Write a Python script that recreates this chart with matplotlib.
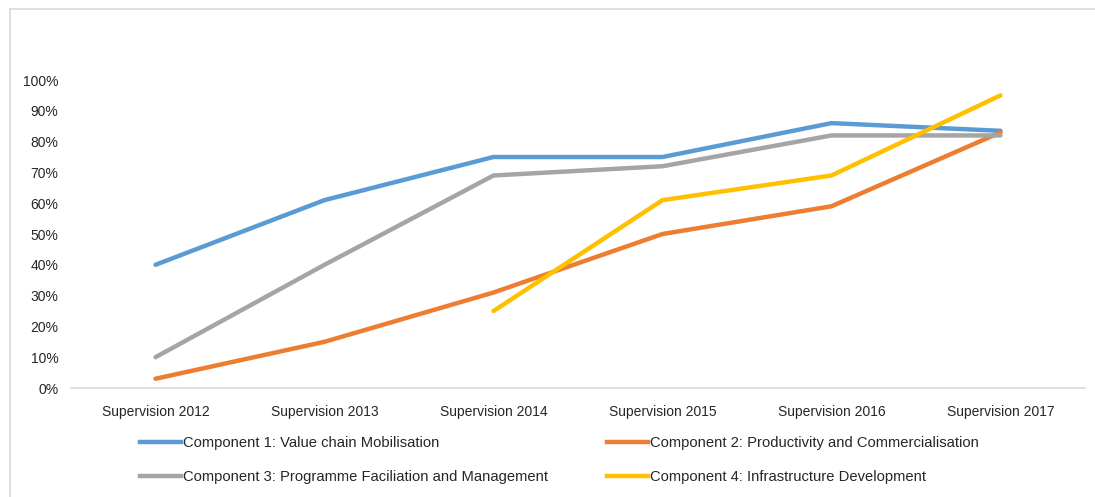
import numpy as np
import matplotlib.pyplot as plt
from matplotlib.lines import Line2D
from matplotlib.ticker import PercentFormatter

plt.rcParams['font.family'] = ['Liberation Sans', 'DejaVu Sans']

years = ['Supervision 2012', 'Supervision 2013', 'Supervision 2014',
         'Supervision 2015', 'Supervision 2016', 'Supervision 2017']
comp1 = [40, 61, 75, 75, 86, 83.5]
comp2 = [3, 15, 31, 50, 59, 83]
comp3 = [10, 40, 69, 72, 82, 82]
comp4 = [np.nan, np.nan, 25, 61, 69, 95]

labels = ['Component 1: Value chain Mobilisation',
          'Component 2: Productivity and Commercialisation',
          'Component 3: Programme Faciliation and Management',
          'Component 4: Infrastructure Development']
colors = ['#5b9bd5', '#ed7d31', '#a5a5a5', '#ffc000']

W, H = 1095, 497
fig = plt.figure(figsize=(W / 100, H / 100), dpi=100)
ax = fig.add_axes([71 / W, 1 - 388 / H, (1085 - 71) / W, (388 - 80) / H])

x = np.arange(len(years))
for vals, col in zip([comp1, comp2, comp3, comp4], colors):
    ax.plot(x, vals, color=col, lw=3.2, solid_capstyle='round')

ax.set_xlim(-0.5, len(years) - 0.5)
ax.set_ylim(0, 100)
ax.set_yticks(np.arange(0, 101, 10))
ax.yaxis.set_major_formatter(PercentFormatter(decimals=0))
ax.set_xticks(x)
ax.set_xticklabels(years)
ax.tick_params(length=0, labelsize=10, colors='#262626')
ax.tick_params(axis='x', pad=12)
ax.tick_params(axis='y', pad=9)
for s in ['top', 'right', 'left']:
    ax.spines[s].set_visible(False)
ax.spines['bottom'].set_color('#d9d9d9')
ax.spines['bottom'].set_linewidth(1.2)

# legend: two columns placed by hand
handles = [Line2D([], [], color=c, lw=3.2) for c in colors]
leg_kw = dict(frameon=False, fontsize=10.6, handlelength=2.8, handletextpad=0.1,
              labelspacing=1.35, borderpad=0, borderaxespad=0, loc='upper left')
leg1 = fig.legend([handles[0], handles[2]], [labels[0], labels[2]],
                  bbox_to_anchor=(140 / W, 1 - 436 / H), **leg_kw)
leg2 = fig.legend([handles[1], handles[3]], [labels[1], labels[3]],
                  bbox_to_anchor=(607 / W, 1 - 436 / H), **leg_kw)
for leg in (leg1, leg2):
    for t in leg.get_texts():
        t.set_color('#262626')

# chart frame
fig.add_artist(Line2D([10 / W, 1], [1 - 9 / H, 1 - 9 / H], color='#d9d9d9', lw=1.2))
fig.add_artist(Line2D([10 / W, 10 / W], [0, 1 - 9 / H], color='#d9d9d9', lw=1.2))

fig.savefig('out.png', dpi=100)
